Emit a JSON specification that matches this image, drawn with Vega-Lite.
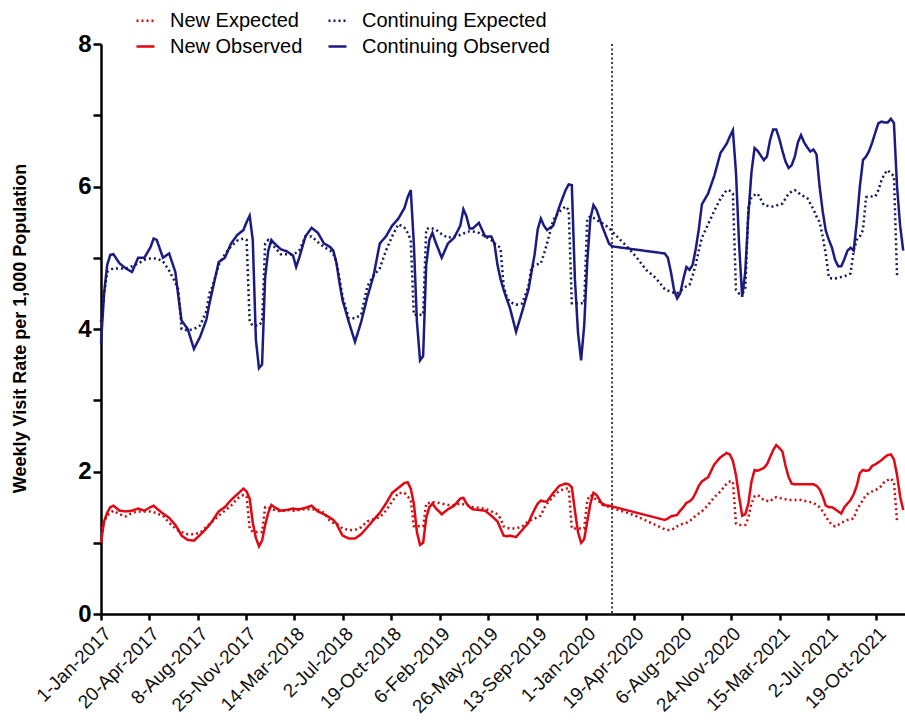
{
"$schema": "https://vega.github.io/schema/vega-lite/v6.json",
"width": 804,
"height": 570,
"autosize": {"type": "none"},
"padding": {"left": 101, "top": 44, "right": 0, "bottom": 106},
"background": "white",
"config": {"view": {"stroke": null}, "font": "Liberation Sans"},
"data": {"values": [
{"d":"2017-01-01","co":3.8,"ce":4.1,"no":1.0,"ne":1.2},
{"d":"2017-01-08","co":4.5,"ce":4.5,"no":1.3,"ne":1.3},
{"d":"2017-01-15","co":4.9,"ce":4.8,"no":1.42,"ne":1.38},
{"d":"2017-01-22","co":5.04,"ce":4.83,"no":1.5,"ne":1.42},
{"d":"2017-01-29","co":5.05,"ce":4.85,"no":1.52,"ne":1.45},
{"d":"2017-02-12","co":4.92,"ce":4.85,"no":1.45,"ne":1.4},
{"d":"2017-02-26","co":4.85,"ce":4.85,"no":1.44,"ne":1.37},
{"d":"2017-03-12","co":4.8,"ce":4.88,"no":1.45,"ne":1.42},
{"d":"2017-03-26","co":5.0,"ce":4.92,"no":1.48,"ne":1.44},
{"d":"2017-04-09","co":5.0,"ce":4.97,"no":1.45,"ne":1.44},
{"d":"2017-04-23","co":5.15,"ce":4.99,"no":1.5,"ne":1.44},
{"d":"2017-04-30","co":5.27,"ce":4.99,"no":1.52,"ne":1.43},
{"d":"2017-05-07","co":5.25,"ce":4.99,"no":1.48,"ne":1.41},
{"d":"2017-05-21","co":5.0,"ce":4.95,"no":1.41,"ne":1.38},
{"d":"2017-06-04","co":5.06,"ce":4.82,"no":1.35,"ne":1.28},
{"d":"2017-06-18","co":4.8,"ce":4.65,"no":1.25,"ne":1.2},
{"d":"2017-06-25","co":4.45,"ce":4.55,"no":1.18,"ne":1.17},
{"d":"2017-07-02","co":4.12,"ce":4.0,"no":1.1,"ne":1.15},
{"d":"2017-07-16","co":4.0,"ce":3.98,"no":1.04,"ne":1.12},
{"d":"2017-07-30","co":3.72,"ce":4.0,"no":1.03,"ne":1.12},
{"d":"2017-08-13","co":3.89,"ce":4.05,"no":1.11,"ne":1.14},
{"d":"2017-08-27","co":4.13,"ce":4.25,"no":1.2,"ne":1.22},
{"d":"2017-09-03","co":4.35,"ce":4.5,"no":1.25,"ne":1.26},
{"d":"2017-09-10","co":4.55,"ce":4.6,"no":1.31,"ne":1.3},
{"d":"2017-09-24","co":4.94,"ce":4.9,"no":1.44,"ne":1.38},
{"d":"2017-10-08","co":5.0,"ce":5.05,"no":1.5,"ne":1.45},
{"d":"2017-10-22","co":5.2,"ce":5.16,"no":1.6,"ne":1.52},
{"d":"2017-11-05","co":5.32,"ce":5.24,"no":1.68,"ne":1.62},
{"d":"2017-11-19","co":5.39,"ce":5.27,"no":1.76,"ne":1.67},
{"d":"2017-11-26","co":5.5,"ce":5.25,"no":1.72,"ne":1.65},
{"d":"2017-12-03","co":5.59,"ce":4.1,"no":1.62,"ne":1.2},
{"d":"2017-12-10","co":5.25,"ce":4.05,"no":1.28,"ne":1.15},
{"d":"2017-12-17","co":3.85,"ce":4.05,"no":1.07,"ne":1.15},
{"d":"2017-12-24","co":3.45,"ce":4.05,"no":0.95,"ne":1.15},
{"d":"2017-12-31","co":3.5,"ce":4.1,"no":1.03,"ne":1.15},
{"d":"2018-01-07","co":4.73,"ce":5.2,"no":1.25,"ne":1.5},
{"d":"2018-01-14","co":5.1,"ce":5.25,"no":1.42,"ne":1.5},
{"d":"2018-01-21","co":5.25,"ce":5.22,"no":1.53,"ne":1.48},
{"d":"2018-01-28","co":5.2,"ce":5.15,"no":1.5,"ne":1.46},
{"d":"2018-02-11","co":5.12,"ce":5.05,"no":1.45,"ne":1.44},
{"d":"2018-02-25","co":5.09,"ce":5.05,"no":1.46,"ne":1.46},
{"d":"2018-03-11","co":5.03,"ce":5.05,"no":1.48,"ne":1.45},
{"d":"2018-03-18","co":4.87,"ce":5.07,"no":1.47,"ne":1.45},
{"d":"2018-03-25","co":5.0,"ce":5.1,"no":1.47,"ne":1.46},
{"d":"2018-04-08","co":5.3,"ce":5.3,"no":1.49,"ne":1.47},
{"d":"2018-04-22","co":5.42,"ce":5.3,"no":1.52,"ne":1.47},
{"d":"2018-05-06","co":5.35,"ce":5.22,"no":1.44,"ne":1.46},
{"d":"2018-05-20","co":5.2,"ce":5.15,"no":1.4,"ne":1.42},
{"d":"2018-06-03","co":5.15,"ce":5.1,"no":1.35,"ne":1.3},
{"d":"2018-06-10","co":5.1,"ce":5.05,"no":1.32,"ne":1.28},
{"d":"2018-06-17","co":4.93,"ce":4.95,"no":1.27,"ne":1.27},
{"d":"2018-06-24","co":4.65,"ce":4.7,"no":1.18,"ne":1.23},
{"d":"2018-07-01","co":4.4,"ce":4.45,"no":1.1,"ne":1.2},
{"d":"2018-07-15","co":4.1,"ce":4.15,"no":1.06,"ne":1.18},
{"d":"2018-07-29","co":3.82,"ce":4.15,"no":1.06,"ne":1.18},
{"d":"2018-08-12","co":4.1,"ce":4.2,"no":1.12,"ne":1.22},
{"d":"2018-08-26","co":4.45,"ce":4.6,"no":1.22,"ne":1.3},
{"d":"2018-09-09","co":4.75,"ce":4.75,"no":1.32,"ne":1.33},
{"d":"2018-09-23","co":5.2,"ce":4.85,"no":1.42,"ne":1.36},
{"d":"2018-10-07","co":5.3,"ce":5.1,"no":1.55,"ne":1.45},
{"d":"2018-10-21","co":5.45,"ce":5.3,"no":1.7,"ne":1.58},
{"d":"2018-11-04","co":5.55,"ce":5.47,"no":1.77,"ne":1.7},
{"d":"2018-11-18","co":5.7,"ce":5.42,"no":1.84,"ne":1.7},
{"d":"2018-11-25","co":5.85,"ce":5.35,"no":1.85,"ne":1.65},
{"d":"2018-12-02","co":5.95,"ce":5.25,"no":1.76,"ne":1.6},
{"d":"2018-12-09","co":5.2,"ce":4.2,"no":1.55,"ne":1.23},
{"d":"2018-12-16","co":4.1,"ce":4.2,"no":1.15,"ne":1.23},
{"d":"2018-12-23","co":3.56,"ce":4.2,"no":0.97,"ne":1.23},
{"d":"2018-12-30","co":3.62,"ce":4.2,"no":1.0,"ne":1.23},
{"d":"2019-01-06","co":4.9,"ce":5.4,"no":1.35,"ne":1.55},
{"d":"2019-01-13","co":5.25,"ce":5.42,"no":1.5,"ne":1.56},
{"d":"2019-01-20","co":5.35,"ce":5.41,"no":1.55,"ne":1.57},
{"d":"2019-01-27","co":5.22,"ce":5.4,"no":1.49,"ne":1.57},
{"d":"2019-02-10","co":5.0,"ce":5.33,"no":1.4,"ne":1.55},
{"d":"2019-02-24","co":5.2,"ce":5.28,"no":1.47,"ne":1.53},
{"d":"2019-03-10","co":5.28,"ce":5.3,"no":1.52,"ne":1.53},
{"d":"2019-03-24","co":5.45,"ce":5.32,"no":1.62,"ne":1.55},
{"d":"2019-03-31","co":5.68,"ce":5.34,"no":1.63,"ne":1.54},
{"d":"2019-04-07","co":5.58,"ce":5.36,"no":1.55,"ne":1.53},
{"d":"2019-04-14","co":5.41,"ce":5.37,"no":1.5,"ne":1.51},
{"d":"2019-04-21","co":5.41,"ce":5.37,"no":1.47,"ne":1.5},
{"d":"2019-05-05","co":5.49,"ce":5.35,"no":1.46,"ne":1.49},
{"d":"2019-05-19","co":5.3,"ce":5.3,"no":1.45,"ne":1.48},
{"d":"2019-06-02","co":5.3,"ce":5.25,"no":1.38,"ne":1.44},
{"d":"2019-06-09","co":5.2,"ce":5.2,"no":1.34,"ne":1.42},
{"d":"2019-06-16","co":4.9,"ce":5.18,"no":1.3,"ne":1.4},
{"d":"2019-06-23","co":4.7,"ce":5.13,"no":1.2,"ne":1.34},
{"d":"2019-06-30","co":4.55,"ce":4.6,"no":1.1,"ne":1.23},
{"d":"2019-07-07","co":4.42,"ce":4.45,"no":1.09,"ne":1.21},
{"d":"2019-07-14","co":4.3,"ce":4.38,"no":1.1,"ne":1.2},
{"d":"2019-07-28","co":3.96,"ce":4.34,"no":1.08,"ne":1.2},
{"d":"2019-08-11","co":4.25,"ce":4.36,"no":1.18,"ne":1.23},
{"d":"2019-08-25","co":4.55,"ce":4.6,"no":1.28,"ne":1.3},
{"d":"2019-09-01","co":4.8,"ce":4.87,"no":1.38,"ne":1.32},
{"d":"2019-09-08","co":5.05,"ce":4.9,"no":1.47,"ne":1.34},
{"d":"2019-09-15","co":5.4,"ce":4.91,"no":1.55,"ne":1.36},
{"d":"2019-09-22","co":5.55,"ce":4.92,"no":1.59,"ne":1.38},
{"d":"2019-09-29","co":5.45,"ce":5.05,"no":1.58,"ne":1.48},
{"d":"2019-10-06","co":5.39,"ce":5.2,"no":1.58,"ne":1.55},
{"d":"2019-10-20","co":5.45,"ce":5.53,"no":1.7,"ne":1.65},
{"d":"2019-11-03","co":5.72,"ce":5.65,"no":1.8,"ne":1.73},
{"d":"2019-11-17","co":5.95,"ce":5.72,"no":1.83,"ne":1.76},
{"d":"2019-11-24","co":6.03,"ce":5.67,"no":1.82,"ne":1.76},
{"d":"2019-12-01","co":6.02,"ce":4.36,"no":1.78,"ne":1.2},
{"d":"2019-12-08","co":4.7,"ce":4.36,"no":1.45,"ne":1.2},
{"d":"2019-12-15","co":3.95,"ce":4.36,"no":1.15,"ne":1.2},
{"d":"2019-12-22","co":3.56,"ce":4.36,"no":1.0,"ne":1.2},
{"d":"2019-12-29","co":4.05,"ce":4.36,"no":1.05,"ne":1.2},
{"d":"2020-01-05","co":4.95,"ce":5.55,"no":1.3,"ne":1.6},
{"d":"2020-01-12","co":5.55,"ce":5.58,"no":1.55,"ne":1.67},
{"d":"2020-01-19","co":5.74,"ce":5.56,"no":1.7,"ne":1.64},
{"d":"2020-01-26","co":5.67,"ce":5.53,"no":1.67,"ne":1.6},
{"d":"2020-02-09","co":5.42,"ce":5.48,"no":1.53,"ne":1.55},
{"d":"2020-02-23","co":5.2,"ce":5.42,"no":1.52,"ne":1.5},
{"d":"2020-03-01","co":5.16,"ce":5.37,"no":1.51,"ne":1.48},
{"d":"2020-03-15","co":null,"ce":5.28,"no":null,"ne":1.46},
{"d":"2020-04-05","co":null,"ce":5.15,"no":null,"ne":1.42},
{"d":"2020-04-26","co":null,"ce":5.0,"no":null,"ne":1.37},
{"d":"2020-05-17","co":null,"ce":4.83,"no":null,"ne":1.31},
{"d":"2020-06-07","co":null,"ce":4.72,"no":null,"ne":1.25},
{"d":"2020-06-28","co":5.06,"ce":4.56,"no":1.32,"ne":1.19},
{"d":"2020-07-05","co":5.0,"ce":4.54,"no":1.34,"ne":1.18},
{"d":"2020-07-12","co":4.8,"ce":4.52,"no":1.37,"ne":1.18},
{"d":"2020-07-19","co":4.55,"ce":4.51,"no":1.38,"ne":1.2},
{"d":"2020-07-26","co":4.43,"ce":4.5,"no":1.39,"ne":1.23},
{"d":"2020-08-02","co":4.5,"ce":4.53,"no":1.45,"ne":1.25},
{"d":"2020-08-09","co":4.7,"ce":4.57,"no":1.5,"ne":1.27},
{"d":"2020-08-16","co":4.87,"ce":4.6,"no":1.56,"ne":1.28},
{"d":"2020-08-23","co":4.83,"ce":4.62,"no":1.58,"ne":1.3},
{"d":"2020-08-30","co":4.9,"ce":4.75,"no":1.62,"ne":1.34},
{"d":"2020-09-06","co":5.12,"ce":4.9,"no":1.7,"ne":1.38},
{"d":"2020-09-13","co":5.4,"ce":5.1,"no":1.8,"ne":1.41},
{"d":"2020-09-20","co":5.75,"ce":5.28,"no":1.86,"ne":1.44},
{"d":"2020-10-04","co":5.9,"ce":5.47,"no":1.92,"ne":1.53},
{"d":"2020-10-18","co":6.15,"ce":5.66,"no":2.1,"ne":1.64},
{"d":"2020-11-01","co":6.47,"ce":5.83,"no":2.2,"ne":1.72},
{"d":"2020-11-15","co":6.6,"ce":5.95,"no":2.26,"ne":1.83},
{"d":"2020-11-22","co":6.7,"ce":5.94,"no":2.24,"ne":1.86},
{"d":"2020-11-29","co":6.79,"ce":5.9,"no":2.15,"ne":1.86},
{"d":"2020-12-06","co":6.2,"ce":4.55,"no":1.95,"ne":1.27},
{"d":"2020-12-13","co":5.2,"ce":4.5,"no":1.65,"ne":1.25},
{"d":"2020-12-20","co":4.45,"ce":4.5,"no":1.38,"ne":1.25},
{"d":"2020-12-27","co":4.8,"ce":4.55,"no":1.4,"ne":1.25},
{"d":"2021-01-03","co":5.6,"ce":5.7,"no":1.55,"ne":1.35},
{"d":"2021-01-10","co":6.2,"ce":5.85,"no":1.86,"ne":1.55},
{"d":"2021-01-17","co":6.54,"ce":5.88,"no":2.02,"ne":1.65},
{"d":"2021-01-24","co":6.5,"ce":5.9,"no":2.01,"ne":1.67},
{"d":"2021-02-07","co":6.37,"ce":5.74,"no":2.05,"ne":1.6},
{"d":"2021-02-14","co":6.42,"ce":5.73,"no":2.1,"ne":1.59},
{"d":"2021-02-21","co":6.65,"ce":5.72,"no":2.2,"ne":1.58},
{"d":"2021-02-28","co":6.8,"ce":5.72,"no":2.3,"ne":1.62},
{"d":"2021-03-07","co":6.8,"ce":5.73,"no":2.37,"ne":1.64},
{"d":"2021-03-14","co":6.67,"ce":5.75,"no":2.33,"ne":1.63},
{"d":"2021-03-21","co":6.5,"ce":5.76,"no":2.28,"ne":1.62},
{"d":"2021-03-28","co":6.35,"ce":5.83,"no":2.08,"ne":1.61},
{"d":"2021-04-04","co":6.26,"ce":5.9,"no":1.92,"ne":1.6},
{"d":"2021-04-11","co":6.3,"ce":5.93,"no":1.83,"ne":1.6},
{"d":"2021-04-18","co":6.42,"ce":5.95,"no":1.82,"ne":1.6},
{"d":"2021-04-25","co":6.62,"ce":5.92,"no":1.82,"ne":1.6},
{"d":"2021-05-02","co":6.72,"ce":5.88,"no":1.82,"ne":1.6},
{"d":"2021-05-09","co":6.62,"ce":5.86,"no":1.82,"ne":1.59},
{"d":"2021-05-16","co":6.55,"ce":5.84,"no":1.82,"ne":1.58},
{"d":"2021-05-23","co":6.49,"ce":5.76,"no":1.82,"ne":1.57},
{"d":"2021-05-30","co":6.52,"ce":5.68,"no":1.82,"ne":1.56},
{"d":"2021-06-06","co":6.45,"ce":5.58,"no":1.8,"ne":1.53},
{"d":"2021-06-13","co":6.0,"ce":5.5,"no":1.75,"ne":1.5},
{"d":"2021-06-20","co":5.65,"ce":5.3,"no":1.65,"ne":1.44},
{"d":"2021-06-27","co":5.38,"ce":5.05,"no":1.52,"ne":1.37},
{"d":"2021-07-04","co":5.25,"ce":4.72,"no":1.5,"ne":1.3},
{"d":"2021-07-11","co":5.14,"ce":4.71,"no":1.5,"ne":1.25},
{"d":"2021-07-18","co":4.97,"ce":4.71,"no":1.47,"ne":1.23},
{"d":"2021-07-25","co":4.88,"ce":4.72,"no":1.44,"ne":1.25},
{"d":"2021-08-01","co":4.88,"ce":4.73,"no":1.41,"ne":1.28},
{"d":"2021-08-08","co":4.98,"ce":4.74,"no":1.5,"ne":1.3},
{"d":"2021-08-15","co":5.1,"ce":4.76,"no":1.55,"ne":1.32},
{"d":"2021-08-22","co":5.14,"ce":4.78,"no":1.6,"ne":1.33},
{"d":"2021-08-29","co":5.1,"ce":5.1,"no":1.68,"ne":1.34},
{"d":"2021-09-05","co":5.5,"ce":5.25,"no":1.8,"ne":1.46},
{"d":"2021-09-12","co":6.0,"ce":5.3,"no":1.98,"ne":1.53},
{"d":"2021-09-19","co":6.37,"ce":5.39,"no":2.02,"ne":1.6},
{"d":"2021-09-26","co":6.42,"ce":5.85,"no":2.01,"ne":1.67},
{"d":"2021-10-03","co":6.5,"ce":5.86,"no":2.02,"ne":1.7},
{"d":"2021-10-10","co":6.62,"ce":5.86,"no":2.08,"ne":1.72},
{"d":"2021-10-17","co":6.76,"ce":5.86,"no":2.1,"ne":1.74},
{"d":"2021-10-24","co":6.89,"ce":5.95,"no":2.13,"ne":1.76},
{"d":"2021-10-31","co":6.91,"ce":6.09,"no":2.16,"ne":1.8},
{"d":"2021-11-07","co":6.9,"ce":6.18,"no":2.2,"ne":1.86},
{"d":"2021-11-14","co":6.9,"ce":6.23,"no":2.23,"ne":1.88},
{"d":"2021-11-21","co":6.95,"ce":6.18,"no":2.24,"ne":1.9},
{"d":"2021-11-28","co":6.89,"ce":6.15,"no":2.17,"ne":1.85},
{"d":"2021-12-05","co":6.0,"ce":4.75,"no":1.95,"ne":1.3},
{"d":"2021-12-12","co":5.45,"ce":null,"no":1.65,"ne":null},
{"d":"2021-12-19","co":5.1,"ce":null,"no":1.46,"ne":null}
]},
"layer": [
{
"data": {"values": [{"d": "2020-03-01"}]},
"mark": {"type": "rule", "color": "black", "strokeDash": [2, 2.5], "strokeWidth": 1.5},
"encoding": {
"x": {"field": "d", "type": "temporal",
"scale": {"type": "utc", "domain": [{"year": 2017, "month": 1, "date": 1, "utc": true}, {"year": 2021, "month": 12, "date": 23, "utc": true}]},
"axis": {
"title": null,
"values": [
{"year":2017,"month":1,"date":1,"utc":true},
{"year":2017,"month":4,"date":20,"utc":true},
{"year":2017,"month":8,"date":8,"utc":true},
{"year":2017,"month":11,"date":25,"utc":true},
{"year":2018,"month":3,"date":14,"utc":true},
{"year":2018,"month":7,"date":2,"utc":true},
{"year":2018,"month":10,"date":19,"utc":true},
{"year":2019,"month":2,"date":6,"utc":true},
{"year":2019,"month":5,"date":26,"utc":true},
{"year":2019,"month":9,"date":13,"utc":true},
{"year":2020,"month":1,"date":1,"utc":true},
{"year":2020,"month":4,"date":19,"utc":true},
{"year":2020,"month":8,"date":6,"utc":true},
{"year":2020,"month":11,"date":24,"utc":true},
{"year":2021,"month":3,"date":15,"utc":true},
{"year":2021,"month":7,"date":2,"utc":true},
{"year":2021,"month":10,"date":19,"utc":true}
],
"labelExpr": "utcFormat(datum.value, '%-d-%b-%Y')",
"labelAngle": -45,
"labelFont": "Liberation Sans",
"labelFontSize": 19,
"labelColor": "#111111",
"labelOverlap": false,
"labelFlush": false,
"labelBound": false,
"labelPadding": 4,
"grid": false,
"domainColor": "black",
"domainWidth": 2.5,
"tickColor": "black",
"tickWidth": 2.5,
"tickSize": 6
}
}
}
},
{
"transform": [{"fold": ["no", "co"], "as": ["series", "value"]}, {"filter": "isValid(datum.value)"}],
"mark": {"type": "line", "strokeWidth": 2.5},
"encoding": {
"x": {"field": "d", "type": "temporal"},
"y": {"field": "value", "type": "quantitative",
"scale": {"domain": [0, 8], "nice": false, "zero": true},
"axis": {
"values": [0, 1, 2, 3, 4, 5, 6, 7, 8],
"format": "d",
"labelExpr": "datum.value % 2 === 0 ? datum.label : ''",
"grid": false,
"domainColor": "black",
"domainWidth": 2.5,
"tickColor": "black",
"tickWidth": 2.5,
"tickSize": 8,
"labelFont": "Liberation Sans",
"labelFontSize": 24,
"labelFontWeight": "bold",
"labelColor": "black",
"labelPadding": 2,
"title": "Weekly Visit Rate per 1,000 Population",
"titleFont": "Liberation Sans",
"titleFontSize": 18,
"titleFontWeight": "bold",
"titleColor": "black",
"titleAngle": -90,
"titleAlign": "center",
"titleBaseline": "middle",
"titleX": -81,
"titleY": 284
}
},
"color": {"field": "series", "type": "nominal",
"scale": {"domain": ["ne", "no", "ce", "co"], "range": ["#c41010", "#e30613", "#16165c", "#1b1b82"]},
"legend": {
"title": null,
"orient": "none",
"legendX": 34,
"legendY": -34,
"columns": 2,
"columnPadding": 20,
"rowPadding": 5,
"padding": 0,
"symbolType": "stroke",
"symbolSize": 324,
"symbolStrokeWidth": 2.5,
"labelFont": "Liberation Sans",
"labelFontSize": 20,
"labelColor": "black",
"labelOffset": 14,
"labelLimit": 400,
"labelExpr": "datum.label === 'ne' ? 'New Expected' : datum.label === 'ce' ? 'Continuing Expected' : datum.label === 'no' ? 'New Observed' : 'Continuing Observed'"
}
},
"strokeDash": {"field": "series", "type": "nominal",
"scale": {"domain": ["ne", "no", "ce", "co"], "range": [[2, 3], [1, 0], [2, 3], [1, 0]]}}
}
},
{
"transform": [{"fold": ["ne", "ce"], "as": ["series", "value"]}, {"filter": "isValid(datum.value)"}],
"mark": {"type": "line", "strokeWidth": 2.5},
"encoding": {
"x": {"field": "d", "type": "temporal"},
"y": {"field": "value", "type": "quantitative"},
"color": {"field": "series", "type": "nominal"},
"strokeDash": {"field": "series", "type": "nominal"}
}
}
]
}
